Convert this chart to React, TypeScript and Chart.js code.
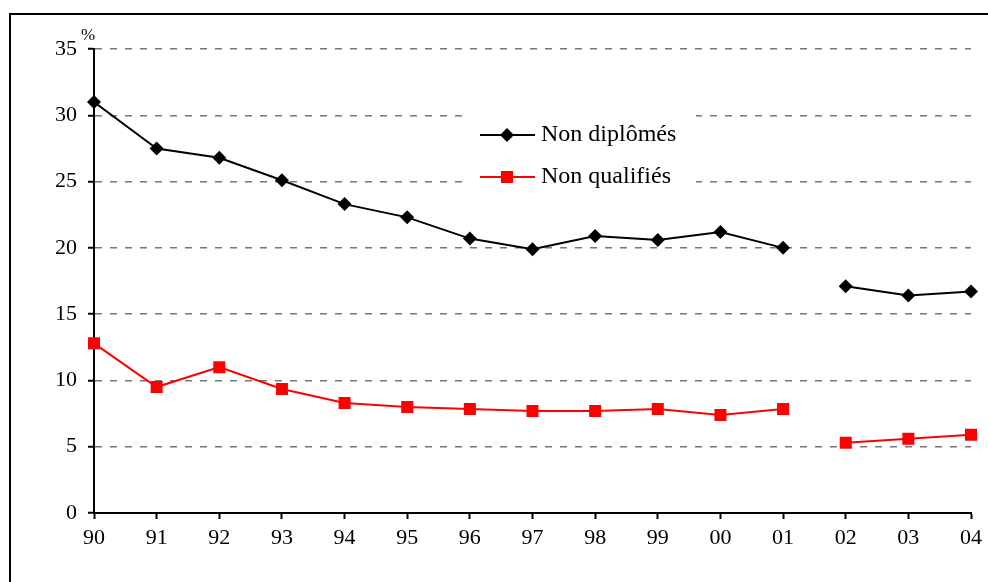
import React, { useEffect, useRef } from "react";
import { Chart, registerables } from "chart.js";

Chart.register(...registerables);

const years = ["90", "91", "92", "93", "94", "95", "96", "97", "98", "99", "00", "01", "02", "03", "04"];
const nonDiplomes = [31.0, 27.5, 26.8, 25.1, 23.3, 22.3, 20.7, 19.9, 20.9, 20.6, 21.2, 20.0, 17.1, 16.4, 16.7];
const nonQualifies = [12.8, 9.5, 11.0, 9.35, 8.3, 8.0, 7.85, 7.7, 7.7, 7.85, 7.4, 7.85, 5.3, 5.6, 5.9];
const seriesNames = ["Non diplômés", "Non qualifiés"];
const yTicks = [0, 5, 10, 15, 20, 25, 30, 35];
const breakAfterIndex = 11; // series interrupted between 01 and 02

const SERIF = "'Liberation Serif', 'Times New Roman', serif";

export default function App() {
  const ref = useRef<HTMLCanvasElement | null>(null);

  useEffect(() => {
    if (!ref.current) return;

    const framePlugin = {
      id: "frame",
      beforeDraw(chart: any) {
        const ctx = chart.ctx;
        ctx.save();
        ctx.fillStyle = "#ffffff";
        ctx.fillRect(0, 0, chart.width, chart.height);
        ctx.strokeStyle = "#000";
        ctx.lineWidth = 2;
        ctx.strokeRect(10, 14, chart.width + 20, chart.height + 20);
        ctx.restore();
      },
      afterDraw(chart: any) {
        const ctx = chart.ctx;
        const area = chart.chartArea;
        ctx.save();
        // % unit label
        ctx.fillStyle = "#000";
        ctx.font = `17px ${SERIF}`;
        ctx.textAlign = "center";
        ctx.textBaseline = "alphabetic";
        ctx.fillText("%", area.left - 6, area.top - 9);

        // legend box
        ctx.fillStyle = "#fff";
        ctx.fillRect(466, 104, 230, 98);
        const items = [
          { y: 135, color: "#000", style: "diamond", name: seriesNames[0] },
          { y: 177, color: "#ff0000", style: "square", name: seriesNames[1] },
        ];
        items.forEach((it) => {
          ctx.strokeStyle = it.color;
          ctx.lineWidth = 2;
          ctx.beginPath();
          ctx.moveTo(480, it.y);
          ctx.lineTo(535, it.y);
          ctx.stroke();
          ctx.fillStyle = it.color;
          if (it.style === "diamond") {
            ctx.beginPath();
            ctx.moveTo(507, it.y - 7);
            ctx.lineTo(514, it.y);
            ctx.lineTo(507, it.y + 7);
            ctx.lineTo(500, it.y);
            ctx.closePath();
            ctx.fill();
          } else {
            ctx.fillRect(501, it.y - 6, 12, 12);
          }
          ctx.fillStyle = "#000";
          ctx.font = `24px ${SERIF}`;
          ctx.textAlign = "left";
          ctx.textBaseline = "middle";
          ctx.fillText(it.name, 541, it.y);
        });
        ctx.restore();
      },
    };

    const seg = (color: string) => ({
      borderColor: (c: any) => (c.p0DataIndex === breakAfterIndex ? "rgba(0,0,0,0)" : color),
    });

    const chart = new Chart(ref.current, {
      type: "line",
      data: {
        labels: years,
        datasets: [
          {
            label: seriesNames[0],
            data: nonDiplomes,
            borderColor: "#000",
            backgroundColor: "#000",
            borderWidth: 2,
            pointStyle: "rectRot",
            pointRadius: 7,
            pointBorderWidth: 0,
            tension: 0,
            segment: seg("#000"),
          },
          {
            label: seriesNames[1],
            data: nonQualifies,
            borderColor: "#ff0000",
            backgroundColor: "#ff0000",
            borderWidth: 2,
            pointStyle: "rect",
            pointRadius: 8.5,
            pointBorderWidth: 0,
            tension: 0,
            segment: seg("#ff0000"),
          },
        ],
      },
      options: {
        animation: false,
        responsive: true,
        maintainAspectRatio: false,
        layout: { padding: { left: 34, right: 13, top: 49, bottom: 24 } },
        plugins: {
          legend: { display: false },
          tooltip: { enabled: false },
        },
        scales: {
          x: {
            type: "category",
            offset: false,
            afterFit: (s: any) => {
              s.height = 45;
            },
            grid: {
              drawOnChartArea: false,
              drawTicks: true,
              tickLength: 6,
              tickColor: "#000",
              tickWidth: 2,
            },
            border: { display: true, color: "#000", width: 2 },
            ticks: {
              color: "#000",
              font: { family: SERIF, size: 22 },
              padding: 6,
              maxRotation: 0,
              autoSkip: false,
            },
          },
          y: {
            min: 0,
            max: 35,
            afterFit: (s: any) => {
              s.width = 60;
            },
            afterBuildTicks: (s: any) => {
              s.ticks = yTicks.map((v) => ({ value: v }));
            },
            grid: {
              color: "#777777",
              lineWidth: 1.5,
              drawTicks: true,
              tickLength: 6,
              tickColor: "#000",
              tickWidth: 2,
              tickBorderDash: [],
            },
            border: { display: true, color: "#000", width: 2, dash: [7, 8] },
            ticks: {
              color: "#000",
              font: { family: SERIF, size: 22 },
              padding: 11,
            },
          },
        },
      },
      plugins: [framePlugin],
    });

    return () => chart.destroy();
  }, []);

  return (
    <div style={{ position: "absolute", left: 0, top: 0, width: 988, height: 582 }}>
      <canvas ref={ref} />
    </div>
  );
}
